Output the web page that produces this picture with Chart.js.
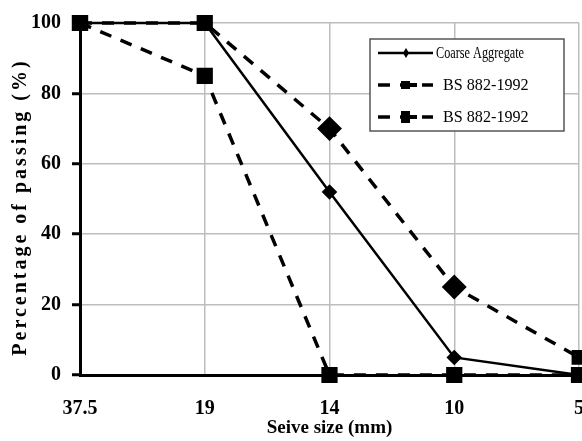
<!DOCTYPE html>
<html>
<head>
<meta charset="utf-8">
<script src="https://cdn.jsdelivr.net/npm/chart.js@4/dist/chart.umd.min.js"></script>
<style>
  html, body { margin: 0; padding: 0; background: #fff; overflow: hidden; }
  #wrap { width: 600px; height: 441px; }
</style>
</head>
<body>
<div id="wrap"><canvas id="sieveChart" width="600" height="441"></canvas></div>
<script>
const sieveSizes = ['37.5', '19', '14', '10', '5'];
const coarseAggregate = [100, 100, 52, 5, 0];
const bsUpper = [100, 100, 70, 25, 5];
const bsLower = [100, 85, 0, 0, 0];
const legendLabels = ['Coarse Aggregate', 'BS 882-1992', 'BS 882-1992'];
const yTitle = 'Percentage of passing (%)';

const serif = '"Liberation Serif", "DejaVu Serif", serif';

// y title with wide letter spacing, like the original figure
const yTitlePlugin = {
    id: 'yTitlePlugin',
    afterDraw(chart) {
        const ctx = chart.ctx;
        const area = chart.chartArea;
        ctx.save();
        ctx.translate(21, (area.top + area.bottom) / 2 + 8);
        ctx.rotate(-Math.PI / 2);
        ctx.font = 'bold 20px ' + serif;
        ctx.letterSpacing = '3px';
        ctx.fillStyle = '#000';
        ctx.textAlign = 'center';
        ctx.textBaseline = 'middle';
        ctx.fillText(yTitle, 0, 0);
        ctx.restore();
    }
};

// legend box drawn inside the plot
const insideLegend = {
    id: 'insideLegend',
    afterDraw(chart) {
        const ctx = chart.ctx;
        const x = 370, y = 39, w = 194, h = 92;
        ctx.save();
        ctx.fillStyle = '#fff';
        ctx.fillRect(x, y, w, h);
        ctx.strokeStyle = '#555';
        ctx.lineWidth = 1.5;
        ctx.strokeRect(x, y, w, h);

        const rows = [y + 14, y + 46, y + 78];
        chart.data.datasets.forEach((ds, i) => {
            const ly = rows[i];
            ctx.strokeStyle = '#000';
            ctx.lineWidth = i === 0 ? 2.5 : 3.5;
            ctx.setLineDash(i === 0 ? [] : [12, 10]);
            ctx.beginPath();
            ctx.moveTo(x + 8, ly);
            ctx.lineTo(x + 63, ly);
            ctx.stroke();
            ctx.setLineDash([]);
            ctx.fillStyle = '#000';
            if (i === 0) {
                ctx.beginPath();
                ctx.moveTo(x + 36, ly - 5);
                ctx.lineTo(x + 39, ly);
                ctx.lineTo(x + 36, ly + 5);
                ctx.lineTo(x + 33, ly);
                ctx.closePath();
                ctx.fill();
            } else {
                ctx.fillRect(x + 31, ly - (i === 1 ? 4 : 6), 9, i === 1 ? 8 : 12);
                ctx.fillRect(x + 40, ly - 2, 7, 4);
            }
            ctx.textBaseline = 'middle';
            ctx.textAlign = 'left';
            ctx.save();
            ctx.font = '17px ' + serif;
            if (i === 0) {
                ctx.translate(x + 66, ly + 1);
                ctx.scale(0.72, 1);
            } else {
                ctx.translate(x + 73, ly + 1);
                ctx.scale(0.95, 1);
            }
            ctx.fillText(legendLabels[i], 0, 0);
            ctx.restore();
        });
        ctx.restore();
    }
};

const lineBase = {
    borderColor: '#000',
    backgroundColor: '#000',
    tension: 0,
    clip: false
};

new Chart(document.getElementById('sieveChart'), {
    type: 'line',
    data: {
        labels: sieveSizes,
        datasets: [
            Object.assign({}, lineBase, {
                label: legendLabels[0],
                data: coarseAggregate,
                borderWidth: 2.5,
                pointStyle: 'rectRot',
                pointRadius: 6,
                order: 2
            }),
            Object.assign({}, lineBase, {
                label: legendLabels[1],
                data: bsUpper,
                borderWidth: 3.5,
                borderDash: [12, 10],
                pointStyle: ['rect', 'rect', 'rectRot', 'rectRot', 'rect'],
                pointRadius: [9, 9, 10, 10, 8],
                order: 1
            }),
            Object.assign({}, lineBase, {
                label: legendLabels[2],
                data: bsLower,
                borderWidth: 3.5,
                borderDash: [12, 10],
                pointStyle: 'rect',
                pointRadius: 9,
                order: 0
            })
        ]
    },
    options: {
        responsive: false,
        animation: false,
        layout: { padding: { top: 23, right: 21, left: 0, bottom: 0 } },
        plugins: {
            legend: { display: false },
            tooltip: { enabled: false }
        },
        scales: {
            x: {
                offset: false,
                grid: { color: '#bdbdbd', lineWidth: 1.5, drawTicks: false },
                border: { display: true, color: '#000', width: 3 },
                ticks: {
                    color: '#000',
                    padding: 22,
                    maxRotation: 0,
                    font: { family: serif, size: 20, weight: 'bold' }
                },
                title: {
                    display: true,
                    text: 'Seive size (mm)',
                    color: '#000',
                    padding: { top: 0, bottom: 2 },
                    font: { family: serif, size: 19, weight: 'bold' }
                },
                afterFit(scale) {
                    scale.height = 66;
                    scale.paddingLeft = 0;
                    scale.paddingRight = 0;
                }
            },
            y: {
                min: 0,
                max: 100,
                ticks: {
                    stepSize: 20,
                    color: '#000',
                    padding: 11,
                    font: { family: serif, size: 20, weight: 'bold' }
                },
                grid: { color: '#bdbdbd', lineWidth: 1.5, tickColor: '#000', tickLength: 8, tickWidth: 3 },
                border: { display: true, color: '#000', width: 3 },
                afterFit(scale) { scale.width = 80; }
            }
        }
    },
    plugins: [insideLegend, yTitlePlugin]
});
</script>
</body>
</html>
